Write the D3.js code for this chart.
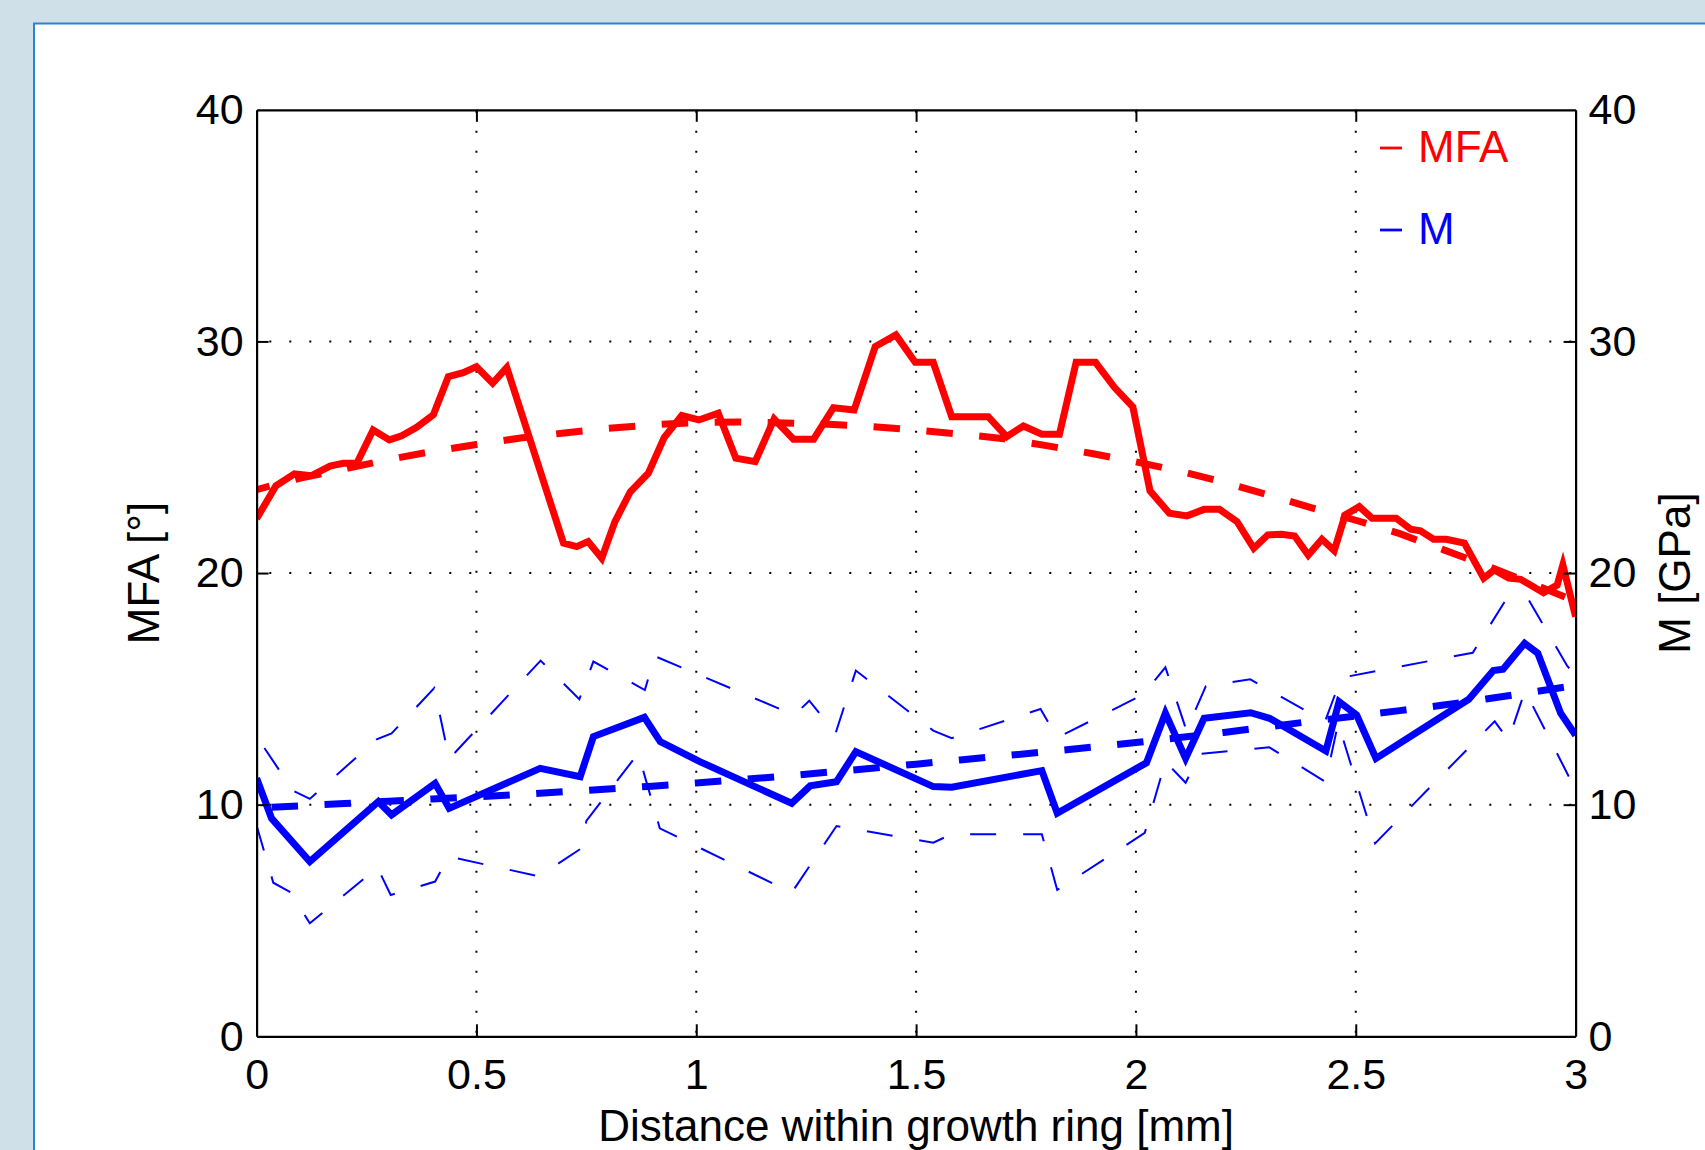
<!DOCTYPE html>
<html><head><meta charset="utf-8">
<script src="https://cdn.jsdelivr.net/npm/d3@7"></script>
<style>
html,body{margin:0;padding:0;background:#cfe0e8;overflow:hidden;}
svg{display:block;}
text{font-family:"Liberation Sans",Arial,Helvetica,sans-serif;}
</style></head><body>
<svg id="chart" width="1705" height="1150"></svg>
<script>
// ---------- data ----------
const xTicks = [0, 0.5, 1, 1.5, 2, 2.5, 3];
const yTicks = [0, 10, 20, 30, 40];
const xTickLabels = ["0", "0.5", "1", "1.5", "2", "2.5", "3"];

// MFA measured (left axis, degrees)
const distMFA = [0,0.044,0.086,0.124,0.167,0.197,0.228,0.265,0.302,0.33,0.364,0.402,0.436,0.47,0.5,0.537,0.569,
  0.698,0.728,0.754,0.785,0.815,0.85,0.891,0.927,0.967,1.006,1.05,1.09,1.134,1.177,1.221,1.267,1.312,1.359,1.407,
  1.454,1.498,1.539,1.581,1.664,1.706,1.744,1.786,1.826,1.864,1.908,1.951,1.993,2.032,2.076,2.116,2.155,2.19,2.23,
  2.268,2.3,2.331,2.361,2.392,2.423,2.451,2.476,2.508,2.537,2.592,2.625,2.647,2.677,2.706,2.747,2.791,2.815,2.848,
  2.875,2.927,2.958,2.971,3.0];
const valMFA = [22.35,23.77,24.28,24.2,24.62,24.74,24.74,26.18,25.75,25.93,26.29,26.83,28.48,28.65,28.91,28.2,28.87,
  21.29,21.14,21.36,20.64,22.22,23.51,24.31,25.85,26.8,26.61,26.9,24.96,24.81,26.65,25.78,25.78,27.14,27.04,29.78,
  30.28,29.1,29.1,26.75,26.75,25.89,26.35,25.99,25.99,29.1,29.1,28.02,27.17,23.55,22.58,22.47,22.75,22.75,22.22,
  21.07,21.65,21.67,21.6,20.78,21.46,20.97,22.51,22.87,22.37,22.37,21.89,21.82,21.46,21.46,21.29,19.78,20.13,19.78,
  19.73,19.15,19.48,20.35,18.12];

// M measured (right axis, GPa)
const distM = [0,0.034,0.121,0.277,0.307,0.406,0.438,0.645,0.736,0.766,0.882,0.918,1.008,1.217,1.259,1.319,1.363,
  1.539,1.581,1.786,1.821,2.024,2.067,2.113,2.155,2.261,2.304,2.432,2.462,2.502,2.546,2.757,2.813,2.835,2.884,2.914,
  2.966,3.0];
const valM = [11.14,9.41,7.54,10.13,9.56,10.92,9.84,11.57,11.21,12.94,13.77,12.72,11.86,10.06,10.81,10.99,12.29,
  10.78,10.75,11.47,9.63,11.81,13.95,12.0,13.73,13.97,13.73,12.32,14.45,13.87,12.0,14.55,15.79,15.85,16.97,16.54,
  13.95,13.0];

// M upper / lower band (thin dashed)
const distMUpper = [0,0.083,0.121,0.273,0.307,0.404,0.438,0.646,0.734,0.766,0.883,0.906,1.223,1.257,1.317,1.363,
  1.539,1.581,1.783,1.821,2.016,2.067,2.115,2.159,2.26,2.43,2.467,2.766,2.839,2.89,2.981,3.0];
const valMUpper = [12.95,10.6,10.25,12.82,13.08,15.03,11.98,16.22,14.55,16.18,14.95,16.41,13.87,14.49,13.09,15.79,
  13.2,12.87,14.13,12.89,14.75,15.93,13.2,15.12,15.41,13.59,15.48,16.56,18.77,18.95,15.99,15.56];
const distMLower = [0,0.038,0.077,0.121,0.275,0.305,0.406,0.437,0.642,0.739,0.75,0.868,0.917,1.217,1.319,1.539,
  1.58,1.786,1.821,2.02,2.067,2.113,2.146,2.303,2.431,2.46,2.544,2.816,2.847,2.885,3.0];
const valMLower = [9.1,6.63,6.22,4.88,7.28,6.1,6.68,7.76,6.91,8.12,9.3,12.22,8.98,6.2,9.08,8.36,
  8.72,8.72,6.32,8.78,11.86,10.95,12.19,12.48,10.99,13.52,8.33,13.6,12.79,14.92,10.64];

// fitted trends (dashed), read at 0.1 mm steps
const fitDist = [0,0.1,0.2,0.3,0.4,0.5,0.6,0.7,0.8,0.9,1.0,1.1,1.2,1.3,1.4,1.5,1.6,1.7,1.8,1.9,2.0,2.1,2.2,2.3,2.4,
  2.5,2.6,2.7,2.8,2.9,3.0];
const fitMFA = [23.6,24.1,24.5,24.9,25.25,25.55,25.83,26.05,26.25,26.4,26.5,26.52,26.48,26.42,26.32,26.17,26.0,25.8,
  25.49,25.16,24.8,24.4,23.92,23.38,22.81,22.28,21.7,21.0,20.3,19.55,18.78];
const fitM = [9.85,9.95,10.05,10.15,10.25,10.34,10.44,10.56,10.68,10.8,10.94,11.08,11.23,11.4,11.57,11.75,11.93,
  12.11,12.29,12.48,12.68,12.9,13.12,13.36,13.6,13.83,14.06,14.3,14.57,14.86,15.15];

const legendNames = ["MFA", "M"];
const colors = {MFA: "#ff0000", M: "#0000ff"};

// ---------- layout ----------
const W = 1705, H = 1150;
const L = 256.6, R = 1575.6, T = 109.8, B = 1036.3;
const FS = 43;

const svg = d3.select("#chart");
svg.append("rect").attr("x", 0).attr("y", 0).attr("width", W).attr("height", H).attr("fill", "#cfe0e8");
svg.append("rect").attr("x", 34).attr("y", 23.5).attr("width", W).attr("height", H)
  .attr("fill", "#ffffff").attr("stroke", "#2a84d6").attr("stroke-width", 2);

const x = d3.scaleLinear().domain([0, 3]).range([L, R]);
const yL = d3.scaleLinear().domain([0, 40]).range([B, T]);
const yR = d3.scaleLinear().domain([0, 40]).range([B, T]);

// grid
const grid = svg.append("g");
grid.selectAll(".vg").data(xTicks.filter(t => t > 0 && t < 3)).join("line")
  .attr("x1", d => x(d)).attr("x2", d => x(d)).attr("y1", T).attr("y2", B)
  .attr("stroke", "#000").attr("stroke-width", 2).attr("stroke-dasharray", "2,18").attr("stroke-dashoffset", -1);
grid.selectAll(".hg").data(yTicks.filter(t => t > 0 && t < 40)).join("line")
  .attr("x1", L).attr("x2", R).attr("y1", d => yL(d)).attr("y2", d => yL(d))
  .attr("stroke", "#000").attr("stroke-width", 2).attr("stroke-dasharray", "2,18").attr("stroke-dashoffset", 7.3);

// clip
svg.append("defs").append("clipPath").attr("id", "plotclip")
  .append("rect").attr("x", L).attr("y", T).attr("width", R - L).attr("height", B - T);
const plot = svg.append("g").attr("clip-path", "url(#plotclip)");

const lineL = d3.line().x(d => x(d[0])).y(d => yL(d[1]));
const lineR = d3.line().x(d => x(d[0])).y(d => yR(d[1]));

// MFA
plot.append("path").datum(d3.zip(fitDist, fitMFA)).attr("d", lineL)
  .attr("fill", "none").attr("stroke", colors.MFA).attr("stroke-width", 7)
  .attr("stroke-dasharray", "26.5,26.5").attr("stroke-dashoffset", 13);
plot.append("path").datum(d3.zip(distMFA, valMFA)).attr("d", lineL)
  .attr("fill", "none").attr("stroke", colors.MFA).attr("stroke-width", 7).attr("stroke-linejoin", "miter");

// M bands
plot.append("path").datum(d3.zip(distMUpper, valMUpper)).attr("d", lineR)
  .attr("fill", "none").attr("stroke", colors.M).attr("stroke-width", 2)
  .attr("stroke-dasharray", "26,27").attr("stroke-dashoffset", 39);
plot.append("path").datum(d3.zip(distMLower, valMLower)).attr("d", lineR)
  .attr("fill", "none").attr("stroke", colors.M).attr("stroke-width", 2)
  .attr("stroke-dasharray", "26,27").attr("stroke-dashoffset", 0);
// M
plot.append("path").datum(d3.zip(distM, valM)).attr("d", lineR)
  .attr("fill", "none").attr("stroke", colors.M).attr("stroke-width", 7);
plot.append("path").datum(d3.zip(fitDist, fitM)).attr("d", lineR)
  .attr("fill", "none").attr("stroke", colors.M).attr("stroke-width", 7)
  .attr("stroke-dasharray", "26.5,26.5").attr("stroke-dashoffset", 38);

// axes
function styleAxis(g) {
  g.attr("font-size", null).attr("font-family", null);
  g.selectAll("path.domain").attr("stroke", "#000").attr("stroke-width", 2.2);
  g.selectAll(".tick line").attr("stroke", "#000").attr("stroke-width", 2);
  g.selectAll(".tick text").attr("fill", "#000").style("font-size", FS + "px");
}
const axB = svg.append("g").attr("transform", `translate(0,${B})`)
  .call(d3.axisBottom(x).tickValues(xTicks).tickFormat((d, i) => xTickLabels[i]).tickSize(-12).tickSizeOuter(0).tickPadding(22));
styleAxis(axB);
const axT = svg.append("g").attr("transform", `translate(0,${T})`)
  .call(d3.axisTop(x).tickValues(xTicks).tickFormat("").tickSize(-12).tickSizeOuter(0));
styleAxis(axT);
const axLft = svg.append("g").attr("transform", `translate(${L},0)`)
  .call(d3.axisLeft(yL).tickValues(yTicks).tickFormat(d3.format("d")).tickSize(-12).tickSizeOuter(0).tickPadding(13));
styleAxis(axLft);
const axRgt = svg.append("g").attr("transform", `translate(${R},0)`)
  .call(d3.axisRight(yR).tickValues(yTicks).tickFormat(d3.format("d")).tickSize(-12).tickSizeOuter(0).tickPadding(13));
styleAxis(axRgt);
[axB, axT].forEach(g => g.selectAll(".tick line").filter(d => d === 0 || d === 3).remove());
[axLft, axRgt].forEach(g => g.selectAll(".tick line").filter(d => d === 0 || d === 40).remove());

// axis labels
svg.append("text").attr("x", (L + R) / 2).attr("y", 1141).attr("text-anchor", "middle")
  .style("font-size", "44px").text("Distance within growth ring [mm]");
svg.append("text").attr("transform", `translate(158.5,${(T + B) / 2}) rotate(-90)`).attr("text-anchor", "middle")
  .style("font-size", "44px").text("MFA [°]");
svg.append("text").attr("transform", `translate(1690,${(T + B) / 2}) rotate(-90)`).attr("text-anchor", "middle")
  .style("font-size", "44px").text("M [GPa]");

// legend
const legY = [148, 230];
legendNames.forEach((n, i) => {
  svg.append("line").attr("x1", 1380).attr("x2", 1402).attr("y1", legY[i]).attr("y2", legY[i])
    .attr("stroke", colors[n]).attr("stroke-width", 2.8);
  svg.append("text").attr("x", 1418).attr("y", legY[i] + 13.5).attr("fill", colors[n])
    .style("font-size", "44px").text(n);
});
</script></body></html>
